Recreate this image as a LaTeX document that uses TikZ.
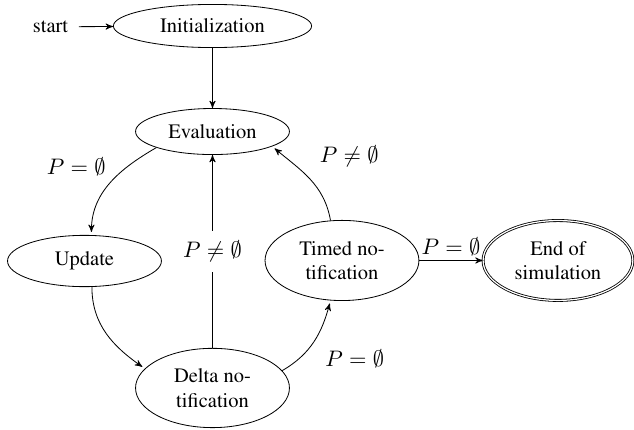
\documentclass[tikz,border=0pt]{standalone}
\usepackage[T1]{fontenc}
\usepackage{times}
\usetikzlibrary{arrows,shapes.geometric}

\begin{document}
\begin{tikzpicture}[>=stealth']
	\tikzstyle{stnode} = [ellipse, draw, align=center, minimum width=2.64cm]
	\tikzstyle{lbl} = [inner sep=2pt, font=\fontsize{10.8}{13}\selectfont]
	\tikzstyle{bent} = [->, shorten >=1.5pt]
	\useasboundingbox (0,0) rectangle (10.875,-7.359);
	\node[inner sep=5pt] (start) at (0.866, -0.46) {start};
	\node[stnode, minimum width=3.40cm, minimum height=0.74cm] (init) at (3.645, -0.446) {Initialization};
	\node[stnode, minimum height=0.79cm] (eval) at (3.645, -2.256) {Evaluation};
	\node[stnode, minimum height=0.88cm] (update) at (1.449, -4.477) {Update};
	\node[stnode, minimum height=1.36cm] (delta) at (3.645, -6.655) {Delta no-\\tification};
	\node[stnode, minimum height=1.375cm] (timed) at (5.866, -4.468) {Timed no-\\tification};
	\node[stnode, double, minimum width=2.57cm, minimum height=1.37cm] (end) at (9.571, -4.468) {End of\\simulation};
	\draw [->] (start)--(init);
	\draw [->] (init)--(eval);
	\draw [bent] (eval.196) to[out=210, in=90] node[lbl, midway, above left, yshift=0.06cm] {$P=\emptyset$} (update.75);
	\draw [bent] (update.286) to[out=270, in=145] (delta.164);
	\draw [->] (delta) -- node[lbl, fill=white, inner sep=5pt, midway] {$P\neq\emptyset$} (eval);
	\draw [bent] (delta.14) to[out=30, in=255] node[lbl, midway, below right, xshift=0.12cm, yshift=-0.07cm] {$P=\emptyset$} (timed.254);
	\draw [bent] (timed.106) to[out=100, in=-40] node[lbl, midway, above right, xshift=0.1cm, yshift=0.12cm] {$P\neq\emptyset$} (eval.-14);
	\draw [->] (timed) -- node[lbl, midway, above] {$P=\emptyset$} (end);
\end{tikzpicture}
\end{document}
